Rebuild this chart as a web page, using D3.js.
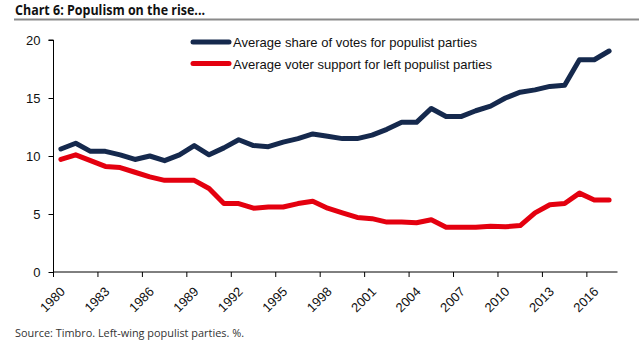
<!DOCTYPE html>
<html>
<head>
<meta charset="utf-8">
<script src="https://cdn.jsdelivr.net/npm/d3@7"></script>
<style>
  body { margin: 0; background: #fff; }
  text { font-family: Arial, "Liberation Sans", sans-serif; }
</style>
</head>
<body>
<div class="canvas"></div>
<script>
const years = d3.range(1980, 2018);
const allPopulist = [10.6, 11.1, 10.4, 10.4, 10.1, 9.7, 10.0, 9.6, 10.1, 10.9,
    10.1, 10.7, 11.4, 10.9, 10.8, 11.2, 11.5, 11.9, 11.7, 11.5,
    11.5, 11.8, 12.3, 12.9, 12.9, 14.1, 13.4, 13.4, 13.9, 14.3,
    15.0, 15.5, 15.7, 16.0, 16.1, 18.3, 18.3, 19.05];
const leftPopulist = [9.7, 10.1, 9.6, 9.1, 9.0, 8.6, 8.2, 7.9, 7.9, 7.9,
    7.2, 5.9, 5.9, 5.5, 5.6, 5.6, 5.9, 6.1, 5.5, 5.1,
    4.7, 4.6, 4.3, 4.3, 4.25, 4.5, 3.85, 3.85, 3.85, 3.95,
    3.9, 4.0, 5.1, 5.8, 5.9, 6.8, 6.2, 6.2];
const yTicks = [0, 5, 10, 15, 20];
const xTickYears = [1980, 1983, 1986, 1989, 1992, 1995, 1998, 2001, 2004, 2007, 2010, 2013, 2016];
const seriesNames = ['Average share of votes for populist parties', 'Average voter support for left populist parties'];
const seriesColors = ['#15294d', '#e4000f'];

const dimensions = { width: 639, height: 346 };
const plot = { left: 53.5, right: 616.5, top: 40, bottom: 272 };

const svg = d3.select('.canvas')
    .append('svg')
    .attr('width', dimensions.width)
    .attr('height', dimensions.height);

// title + rule
svg.append('text')
    .attr('x', 15).attr('y', 15)
    .style('font-family', '"Open Sans", "Noto Sans", sans-serif')
    .attr('font-weight', 'bold')
    .attr('font-size', 14.5)
    .attr('fill', '#111')
    .attr('textLength', 190)
    .attr('lengthAdjust', 'spacingAndGlyphs')
    .text('Chart 6: Populism on the rise...');

svg.append('line')
    .attr('x1', 14).attr('x2', 639)
    .attr('y1', 19.5).attr('y2', 19.5)
    .attr('stroke', '#8a8a8a')
    .attr('stroke-width', 2);

const x = d3.scaleBand()
    .domain(years)
    .range([plot.left, plot.right])
    .padding(0);

const y = d3.scaleLinear()
    .domain([0, 20])
    .range([plot.bottom, plot.top]);

// y axis
const yAxis = d3.axisLeft(y)
    .tickValues(yTicks)
    .tickSize(5)
    .tickPadding(8)
    .tickFormat(d3.format('d'));

const yAxisGroup = svg.append('g')
    .attr('transform', `translate(${plot.left}, 0)`)
    .call(yAxis);
yAxisGroup.select('.domain').attr('d', `M-5,${plot.top}H0V${plot.bottom}`);
yAxisGroup.selectAll('text')
    .attr('font-size', 13)
    .attr('fill', '#111');

// x axis - ticks at band start, only labelled years
const xAxisGroup = svg.append('g')
    .attr('transform', `translate(0, ${plot.bottom})`);
xAxisGroup.append('line')
    .attr('x1', plot.left).attr('x2', plot.right + 1)
    .attr('stroke', '#000');
const xTick = xAxisGroup.selectAll('.tick')
    .data(xTickYears)
    .enter()
    .append('g')
    .attr('class', 'tick')
    .attr('transform', d => `translate(${x(d)}, 0)`);
xTick.append('line')
    .attr('y2', 5)
    .attr('stroke', '#000');
xTick.append('text')
    .attr('transform', 'translate(6, 14) rotate(-45)')
    .attr('text-anchor', 'end')
    .attr('dy', '0.7em')
    .attr('font-size', 13)
    .attr('fill', '#111')
    .text(d => d);

// lines
const line = d3.line()
    .x((d, i) => x(years[i]) + x.bandwidth() / 2)
    .y(d => y(d));

[allPopulist, leftPopulist].forEach((series, i) => {
    svg.append('path')
        .datum(series)
        .attr('fill', 'none')
        .attr('stroke', seriesColors[i])
        .attr('stroke-width', 5)
        .attr('stroke-linejoin', 'round')
        .attr('stroke-linecap', 'round')
        .attr('d', line);
});

// legend
const legend = svg.append('g')
    .attr('transform', 'translate(193, 42)');
seriesNames.forEach((name, i) => {
    const row = legend.append('g').attr('transform', `translate(0, ${i * 21.5})`);
    row.append('line')
        .attr('x1', 0).attr('x2', 36)
        .attr('stroke', seriesColors[i])
        .attr('stroke-width', 5)
        .attr('stroke-linecap', 'round');
    row.append('text')
        .attr('x', 40).attr('y', 5)
        .attr('font-size', 13)
        .attr('fill', '#111')
        .attr('textLength', i === 0 ? 244 : 259)
        .attr('lengthAdjust', 'spacingAndGlyphs')
        .text(name);
});

// source
svg.append('text')
    .attr('x', 15).attr('y', 337)
    .style('font-family', '"Open Sans", "Noto Sans", sans-serif')
    .attr('font-size', 11)
    .attr('fill', '#333')
    .attr('textLength', 229)
    .attr('lengthAdjust', 'spacingAndGlyphs')
    .text('Source: Timbro. Left-wing populist parties. %.');
</script>
</body>
</html>
